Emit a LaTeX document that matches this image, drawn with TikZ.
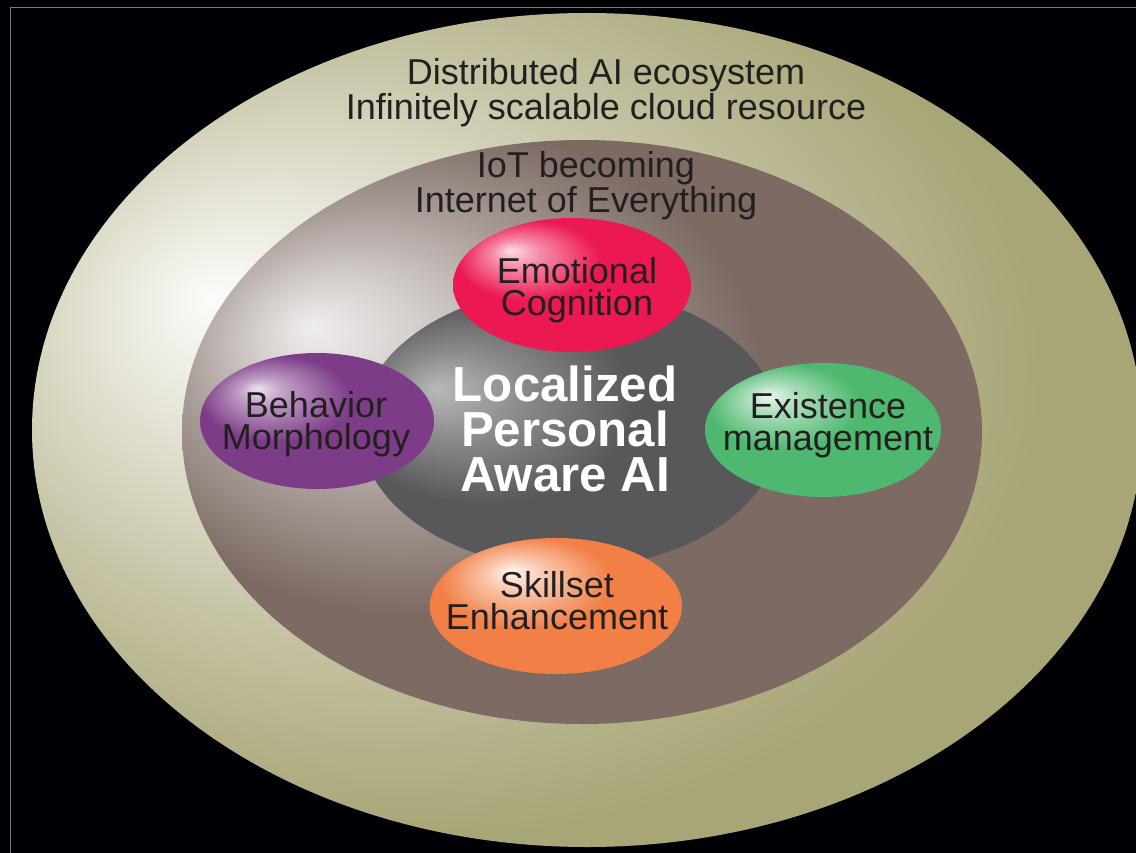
\documentclass[tikz,border=0pt]{standalone}
\usepackage{fontspec}
\setmainfont{Liberation Sans}
\usepackage{tikz}
\definecolor{aiolive}{HTML}{A8A576}
\definecolor{iotbrown}{HTML}{7C6A63}
\definecolor{coregray}{HTML}{58585A}
\definecolor{emored}{HTML}{EC1852}
\definecolor{behpurple}{HTML}{7D3C88}
\definecolor{exgreen}{HTML}{4FB870}
\definecolor{skorange}{HTML}{F28046}
\definecolor{inktext}{HTML}{231F20}
\definecolor{framegray}{HTML}{7A7A7A}

\begin{document}
\begin{tikzpicture}[x=0.025cm, y=-0.025cm]
    \pgfdeclareradialshading{ecosystem glow}{\pgfpoint{-17bp}{8bp}}%
        {color(0bp)=(white!96!aiolive); color(7bp)=(white!72!aiolive);
        color(17bp)=(white!35!aiolive); color(28bp)=(aiolive); color(50bp)=(aiolive)}
    \pgfdeclareradialshading{iot glow}{\pgfpoint{-17bp}{9bp}}%
        {color(0bp)=(white!88!iotbrown); color(5bp)=(white!68!iotbrown);
        color(12bp)=(white!35!iotbrown); color(21bp)=(iotbrown); color(50bp)=(iotbrown)}
    \pgfdeclareradialshading{core glow}{\pgfpoint{-16bp}{7bp}}%
        {color(0bp)=(white!58!coregray); color(8bp)=(white!30!coregray);
        color(18bp)=(coregray); color(50bp)=(coregray)}
    \pgfdeclareradialshading{red glow}{\pgfpoint{-13bp}{13bp}}%
        {color(0bp)=(white!85!emored); color(5bp)=(white!50!emored);
        color(15bp)=(emored); color(50bp)=(emored)}
    \pgfdeclareradialshading{purple glow}{\pgfpoint{-13bp}{12bp}}%
        {color(0bp)=(white!85!behpurple); color(5bp)=(white!50!behpurple);
        color(16bp)=(behpurple); color(50bp)=(behpurple)}
    \pgfdeclareradialshading{green glow}{\pgfpoint{-12bp}{13bp}}%
        {color(0bp)=(white!90!exgreen); color(5bp)=(white!55!exgreen);
        color(16bp)=(exgreen); color(50bp)=(exgreen)}
    \pgfdeclareradialshading{orange glow}{\pgfpoint{-9bp}{13bp}}%
        {color(0bp)=(white!92!skorange); color(6bp)=(white!55!skorange);
        color(17bp)=(skorange); color(50bp)=(skorange)}
    \tikzstyle{label}=[text=inktext, align=center, inner sep=0pt,
        font=\fontsize{25.6}{22.8}\selectfont]
    \tikzstyle{title}=[text=white, align=center, inner sep=0pt,
        font=\bfseries\fontsize{35}{32}\selectfont]

    \useasboundingbox (0,0) rectangle (1136,853);
    \fill[black!98!blue] (0,0) rectangle (1136,853);
    \draw[framegray, line width=0.6pt] (10,7) rectangle (1160,880);

    % rings
    \shade[shading=ecosystem glow] (587,430) ellipse (555 and 417);
    \shade[shading=iot glow] (582,432) ellipse (400 and 292);
    \shade[shading=core glow] (570,428) ellipse (210 and 140);

    % satellites
    \shade[shading=red glow] (572,285) ellipse (119 and 67);
    \shade[shading=purple glow] (317,421) ellipse (117 and 68);
    \shade[shading=green glow] (823,430) ellipse (118 and 67);
    \shade[shading=orange glow] (556,606) ellipse (126 and 68);

    \node [style=label] (cloud) at (606,93) {Distributed AI ecosystem\\Infinitely scalable cloud resource};
    \node [style=label] (iot) at (586,186) {IoT becoming\\Internet of Everything};
    \node [style=title] (core) at (565,429) {Localized\\Personal\\Aware AI};
    \node [style=label] (emo) at (577,290) {Emotional\\Cognition};
    \node [style=label] (beh) at (316,424) {Behavior\\Morphology};
    \node [style=label] (exi) at (828,425) {Existence\\management};
    \node [style=label] (skl) at (557,601) {Skillset\\Enhancement};
\end{tikzpicture}
\end{document}
